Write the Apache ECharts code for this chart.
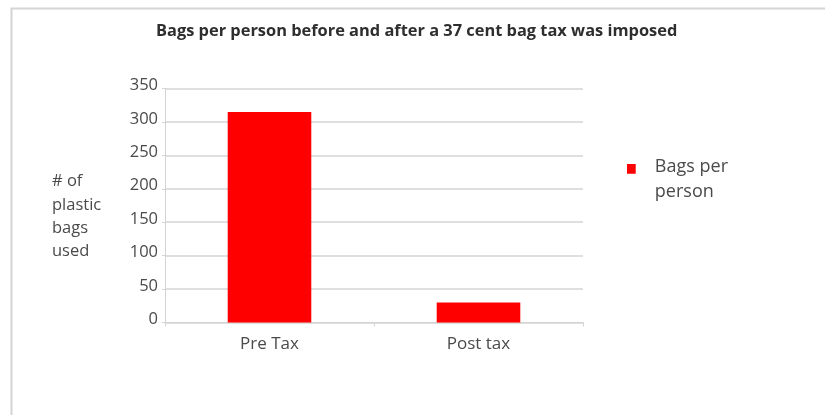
<!DOCTYPE html>
<html>
<head>
<meta charset="utf-8">
<script src="https://cdn.jsdelivr.net/npm/echarts@6/dist/echarts.min.js"></script>
<style>
  html, body { margin: 0; padding: 0; background: #ffffff; }
  #chart { width: 825px; height: 415px; }
</style>
</head>
<body>
<div id="chart"></div>
<script>
// Plastic bag use per person, before and after the bag tax
const categories = ['Pre Tax', 'Post tax'];
const bagsPerPerson = [315, 30];
const seriesName = 'Bags per person';
const yTicks = { min: 0, max: 350, interval: 50 };

const textColor = '#4a4a4a';
const fontFamily = '"Open Sans", Lato, sans-serif';

// Legend marker: a small square sitting at the top of a taller item box,
// so it lines up with the first line of the two-line legend label.
const legendIcon = 'path://M0,0h9v10h-9zM0,31h0.01v0.01h-0.01z';

const chart = echarts.init(document.getElementById('chart'), null, { renderer: 'canvas' });

chart.setOption({
  backgroundColor: '#ffffff',
  animation: false,
  title: {
    text: 'Bags per person before and after a 37 cent bag tax was imposed',
    left: 156,
    top: 23,
    padding: 0,
    textStyle: { fontFamily, fontSize: 16.4, fontWeight: 'bold', color: '#2e2e2e' }
  },
  legend: {
    data: [seriesName],
    orient: 'vertical',
    left: 627,
    top: 154,
    padding: 0,
    icon: legendIcon,
    itemWidth: 9,
    itemHeight: 30,
    formatter: () => 'Bags per\nperson',
    textStyle: {
      fontFamily,
      fontSize: 18,
      color: textColor,
      lineHeight: 25,
      padding: [0, 0, 0, 14]
    }
  },
  grid: { left: 165, right: 242, top: 88.5, bottom: 92.5, containLabel: false },
  xAxis: {
    type: 'category',
    data: categories,
    axisLine: { show: true, lineStyle: { color: '#d4d4d4', width: 1 } },
    axisTick: { show: true, alignWithLabel: false, length: 4, lineStyle: { color: '#d4d4d4' } },
    axisLabel: { fontFamily, fontSize: 17, color: textColor, margin: 13 }
  },
  yAxis: {
    type: 'value',
    min: yTicks.min,
    max: yTicks.max,
    interval: yTicks.interval,
    axisLine: { show: true, lineStyle: { color: '#d4d4d4', width: 1 } },
    axisTick: { show: true, length: 3, lineStyle: { color: '#d4d4d4' } },
    splitLine: { show: true, lineStyle: { color: '#d4d4d4', width: 1.5 } },
    axisLabel: {
      fontFamily,
      fontSize: 16.5,
      color: textColor,
      margin: 7,
      verticalAlign: 'bottom',
      lineHeight: 6
    }
  },
  series: [{
    name: seriesName,
    type: 'bar',
    data: bagsPerPerson,
    barWidth: '40%',
    itemStyle: { color: '#ff0000' }
  }],
  graphic: [
    {
      type: 'rect',
      silent: true,
      shape: { x: 11.5, y: 8.5, width: 830, height: 430 },
      style: { fill: 'none', stroke: '#d4d4d4', lineWidth: 2 }
    },
    {
      type: 'text',
      left: 52,
      top: 170,
      style: {
        text: '# of\nplastic\nbags\nused',
        fontFamily,
        fontSize: 16.5,
        lineHeight: 23.3,
        fill: textColor
      }
    }
  ]
});
</script>
</body>
</html>
